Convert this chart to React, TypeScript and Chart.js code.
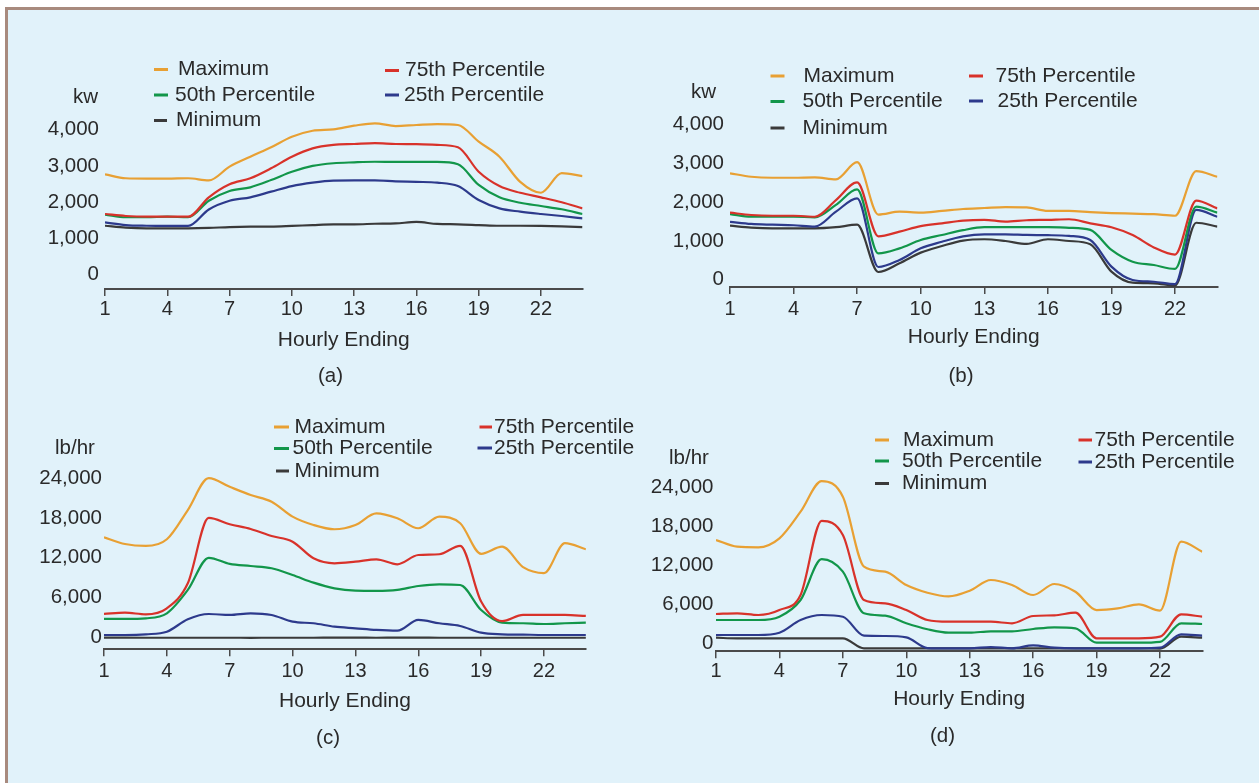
import React, { useEffect, useRef } from "react";
import { Chart, registerables } from "chart.js";

Chart.register(...registerables);

// ---------- DATA ----------
const hours = [1, 2, 3, 4, 5, 6, 7, 8, 9, 10, 11, 12, 13, 14, 15, 16, 17, 18, 19, 20, 21, 22, 23, 24];
const xTickValues = [1, 4, 7, 10, 13, 16, 19, 22];
const kwTicks = [0, 1000, 2000, 3000, 4000];
const lbTicks = [0, 6000, 12000, 18000, 24000];
const seriesLabels = ["Maximum", "75th Percentile", "50th Percentile", "25th Percentile", "Minimum"];
const seriesColors = ["#e8a033", "#d8322a", "#12964a", "#2d3a8c", "#3a3a3a"];

// (a) kW
const aMax = [2770, 2660, 2650, 2650, 2660, 2600, 2980, 3255, 3515, 3805, 3970, 4010, 4110, 4175, 4100, 4130, 4155, 4130, 3670, 3255, 2560, 2260, 2800, 2720];
const a75 = [1675, 1620, 1600, 1600, 1600, 2135, 2495, 2660, 2935, 3255, 3485, 3580, 3605, 3630, 3605, 3600, 3580, 3515, 2840, 2445, 2260, 2135, 2000, 1830];
const a50 = [1655, 1585, 1585, 1600, 1585, 2040, 2310, 2410, 2610, 2840, 3000, 3075, 3100, 3115, 3110, 3110, 3110, 3045, 2475, 2135, 1985, 1895, 1805, 1675];
const a25 = [1445, 1370, 1350, 1345, 1345, 1800, 2040, 2135, 2290, 2445, 2540, 2595, 2600, 2600, 2575, 2560, 2540, 2445, 2060, 1830, 1740, 1675, 1620, 1555];
const aMin = [1350, 1300, 1280, 1280, 1280, 1290, 1315, 1325, 1325, 1345, 1370, 1390, 1390, 1405, 1415, 1455, 1400, 1390, 1370, 1350, 1350, 1345, 1335, 1315];

// (b) kW
const bMax = [2745, 2655, 2630, 2630, 2640, 2590, 3030, 1680, 1755, 1730, 1775, 1825, 1850, 1875, 1865, 1775, 1775, 1745, 1720, 1705, 1690, 1650, 2800, 2655];
const b75 = [1730, 1670, 1650, 1650, 1625, 2055, 2510, 1120, 1240, 1385, 1455, 1525, 1545, 1500, 1535, 1545, 1560, 1455, 1355, 1155, 835, 650, 2040, 1840];
const b50 = [1695, 1625, 1625, 1630, 1610, 1930, 2330, 680, 810, 1025, 1155, 1280, 1355, 1355, 1355, 1355, 1340, 1285, 770, 465, 380, 280, 1885, 1730];
const b25 = [1495, 1440, 1420, 1405, 1370, 1755, 2100, 330, 510, 810, 980, 1120, 1170, 1170, 1155, 1150, 1130, 1025, 340, -5, -50, -110, 1800, 1625];
const bMin = [1395, 1345, 1325, 1325, 1325, 1355, 1420, 200, 425, 700, 870, 1010, 1045, 1000, 925, 1045, 1000, 915, 210, -75, -90, -150, 1470, 1370];

// (c) lb/hr
const cMax = [15090, 14080, 13780, 14790, 19200, 24000, 22700, 21460, 20450, 18200, 16940, 16300, 16940, 18700, 17950, 16450, 18200, 17200, 12600, 13670, 10600, 9700, 14200, 13280];
const c75 = [3530, 3730, 3480, 4390, 8150, 18000, 17050, 16340, 15280, 14430, 11930, 11170, 11410, 11770, 11020, 12420, 12530, 13800, 5400, 2450, 3380, 3380, 3380, 3230];
const c50 = [2780, 2780, 2880, 3630, 7150, 12000, 11070, 10760, 10420, 9410, 8250, 7400, 7040, 7000, 7150, 7750, 8000, 7900, 4130, 2220, 2130, 2020, 2130, 2220];
const c25 = [365, 365, 470, 860, 2730, 3530, 3380, 3630, 3380, 2370, 2130, 1620, 1370, 1120, 1010, 2630, 2130, 1720, 710, 470, 420, 365, 365, 365];
const cMin = [-20, -40, -50, -50, -50, -50, -50, -60, -50, -50, -50, -40, -40, -50, -40, -40, -50, -50, -50, -50, -50, -50, -50, -50];

// (d) lb/hr
const dMax = [15950, 14920, 14830, 16210, 20300, 25000, 22600, 11850, 11080, 9035, 7850, 7290, 8160, 9800, 9035, 7500, 9190, 8000, 5190, 5450, 6070, 5100, 15700, 14150];
const d75 = [4580, 4685, 4425, 5190, 7500, 18900, 16720, 6730, 6220, 5190, 3660, 3395, 3395, 3395, 3150, 4270, 4370, 4780, 845, 845, 845, 1095, 4530, 4165];
const d50 = [3655, 3655, 3655, 4165, 6730, 13000, 11080, 4685, 4320, 3150, 2230, 1705, 1705, 1920, 1920, 2275, 2530, 2380, 170, 170, 170, 300, 3150, 3045];
const d25 = [1350, 1350, 1350, 1705, 3655, 4425, 4165, 1245, 1200, 1000, -650, -700, -700, -500, -700, -250, -600, -700, -700, -700, -700, -600, 1455, 1245];
const dMin = [935, 835, 835, 835, 835, 835, 835, -700, -700, -700, -700, -700, -700, -700, -700, -700, -700, -700, -700, -700, -700, -750, 1095, 935];

// ---------- STYLE / LAYOUT ----------
const TEXT = "#2a2a2a";
const AXIS = "#4a4a4a";
const FONT = '"Liberation Sans", Arial, Helvetica, sans-serif';

type Panel = {
  key: string;
  rect: [number, number, number, number];
  series: number[][];
  yTicks: number[];
  yMin: number;
  yMax: number;
  pad: { left: number; right: number; top: number; bottom: number };
  xHeight: number;
  xTickPad: number;
  yTickPad: number;
  unit: string;
  unitPos: [number, number];
  caption: string;
  captionPos: [number, number];
  legend: [number, number, number, number][];
};

const Y_WIDTH = 70;

const panels: Panel[] = [
  {
    key: "a",
    rect: [0, 0, 630, 392],
    series: [aMax, a75, a50, a25, aMin],
    yTicks: kwTicks,
    yMin: -394,
    yMax: 4543,
    pad: { left: 35, right: 47.5, top: 110, bottom: 39 },
    xHeight: 64,
    xTickPad: 1,
    yTickPad: 6,
    unit: "kw",
    unitPos: [73, 97],
    caption: "(a)",
    captionPos: [330.5, 376],
    legend: [
      [154, 168, 69.5, 178],
      [385, 399, 70.5, 405],
      [154, 168, 95, 175],
      [385, 399, 95, 404],
      [154, 167, 120.5, 176],
    ],
  },
  {
    key: "b",
    rect: [630, 0, 629, 392],
    series: [bMax, b75, b50, b25, bMin],
    yTicks: kwTicks,
    yMin: -186,
    yMax: 4376,
    pad: { left: 30, right: 41.6, top: 110, bottom: 42 },
    xHeight: 63,
    xTickPad: 3,
    yTickPad: 6,
    unit: "kw",
    unitPos: [61, 92],
    caption: "(b)",
    captionPos: [331, 376],
    legend: [
      [140.5, 154.5, 76, 173.5],
      [339, 353, 76, 365.5],
      [140.5, 154.5, 101.5, 172.5],
      [339, 353, 101, 367.5],
      [140.5, 154.5, 128, 172.5],
    ],
  },
  {
    key: "c",
    rect: [0, 392, 645, 391],
    series: [cMax, c75, c50, c25, cMin],
    yTicks: lbTicks,
    yMin: -1794,
    yMax: 26737,
    pad: { left: 34, right: 59.1, top: 68, bottom: 68.7 },
    xHeight: 65,
    xTickPad: 3,
    yTickPad: 2,
    unit: "lb/hr",
    unitPos: [55, 56],
    caption: "(c)",
    captionPos: [328, 346],
    legend: [
      [274, 289, 35, 294.5],
      [479.5, 492, 35, 494],
      [274, 289, 56.5, 292.5],
      [477.5, 492, 56, 494],
      [276, 289, 79, 294.5],
    ],
  },
  {
    key: "d",
    rect: [645, 392, 614, 391],
    series: [dMax, d75, d50, d25, dMin],
    yTicks: lbTicks,
    yMin: -1152,
    yMax: 27474,
    pad: { left: 1, right: 56.7, top: 73, bottom: 70.7 },
    xHeight: 61,
    xTickPad: 1,
    yTickPad: 2.5,
    unit: "lb/hr",
    unitPos: [24, 66],
    caption: "(d)",
    captionPos: [297.5, 344],
    legend: [
      [230, 244, 48, 258],
      [433.5, 447, 48, 449.5],
      [230, 244, 69, 257],
      [433.5, 447, 70, 449.5],
      [230, 244, 91.5, 257],
    ],
  },
];

function fmt(v: number): string {
  return String(Math.round(v)).replace(/\B(?=(\d{3})+(?!\d))/g, ",");
}

function makeOverlay(p: Panel) {
  return {
    id: "overlay_" + p.key,
    afterDraw(chart: any) {
      const ctx = chart.ctx as CanvasRenderingContext2D;
      ctx.save();
      ctx.fillStyle = TEXT;
      ctx.textBaseline = "middle";
      ctx.font = `21px ${FONT}`;
      chart.data.datasets.forEach((ds: any, i: number) => {
        const s = p.legend[i];
        ctx.strokeStyle = ds.borderColor;
        ctx.lineWidth = 3;
        ctx.beginPath();
        ctx.moveTo(s[0], s[2]);
        ctx.lineTo(s[1], s[2]);
        ctx.stroke();
        ctx.textAlign = "left";
        ctx.fillText(ds.label, s[3], s[2]);
      });
      ctx.font = `20.5px ${FONT}`;
      ctx.textAlign = "left";
      ctx.fillText(p.unit, p.unitPos[0], p.unitPos[1]);
      ctx.textAlign = "center";
      ctx.fillText(p.caption, p.captionPos[0], p.captionPos[1]);
      ctx.restore();
    },
  };
}

function PanelChart({ p }: { p: Panel }) {
  const ref = useRef<HTMLCanvasElement | null>(null);
  useEffect(() => {
    if (!ref.current) return;
    const chart = new Chart(ref.current, {
      type: "line",
      data: {
        datasets: p.series.map((vals, i) => ({
          label: seriesLabels[i],
          data: hours.map((h, j) => ({ x: h, y: vals[j] })),
          borderColor: seriesColors[i],
          backgroundColor: seriesColors[i],
          borderWidth: 2.2,
          pointRadius: 0,
          fill: false,
          cubicInterpolationMode: "monotone",
        })),
      },
      options: {
        responsive: false,
        animation: false,
        events: [],
        layout: { padding: p.pad },
        plugins: {
          legend: { display: false },
          tooltip: { enabled: false },
          title: { display: false },
        },
        scales: {
          x: {
            type: "linear",
            min: 1,
            max: 24,
            afterBuildTicks: (s: any) => {
              s.ticks = xTickValues.map((v) => ({ value: v }));
            },
            afterFit: (s: any) => {
              s.height = p.xHeight;
            },
            grid: {
              display: true,
              drawOnChartArea: false,
              drawTicks: true,
              tickLength: 7,
              color: AXIS,
              lineWidth: 1.5,
            },
            border: { display: true, color: AXIS, width: 2 },
            ticks: {
              padding: p.xTickPad,
              color: TEXT,
              font: { size: 20, family: FONT },
              maxRotation: 0,
              autoSkip: false,
              callback: (v: any) => String(v),
            },
            title: {
              display: true,
              text: "Hourly Ending",
              color: TEXT,
              font: { size: 21, family: FONT },
              padding: 0,
            },
          },
          y: {
            type: "linear",
            min: p.yMin,
            max: p.yMax,
            afterBuildTicks: (s: any) => {
              s.ticks = p.yTicks.map((v) => ({ value: v }));
            },
            afterFit: (s: any) => {
              s.width = Y_WIDTH;
            },
            grid: { display: false, drawTicks: false },
            border: { display: false },
            ticks: {
              padding: p.yTickPad,
              color: TEXT,
              font: { size: 20.5, family: FONT },
              callback: (v: any) => fmt(Number(v)),
            },
          },
        },
      } as any,
      plugins: [makeOverlay(p)],
    });
    return () => chart.destroy();
  }, [p]);
  const [l, t, w, h] = p.rect;
  return (
    <canvas
      ref={ref}
      width={w}
      height={h}
      style={{ position: "absolute", left: l, top: t, width: w, height: h }}
    />
  );
}

export default function App() {
  return (
    <div
      style={{
        position: "absolute",
        left: 0,
        top: 0,
        width: 1259,
        height: 783,
        overflow: "hidden",
        background: "#ffffff",
        fontFamily: FONT,
      }}
    >
      <div
        style={{
          position: "absolute",
          left: 5,
          top: 7,
          width: 1300,
          height: 820,
          borderTop: "3px solid #a88a7e",
          borderLeft: "3px solid #a88a7e",
          background: "#e1f2fa",
        }}
      />
      {panels.map((p) => (
        <PanelChart key={p.key} p={p} />
      ))}
    </div>
  );
}
